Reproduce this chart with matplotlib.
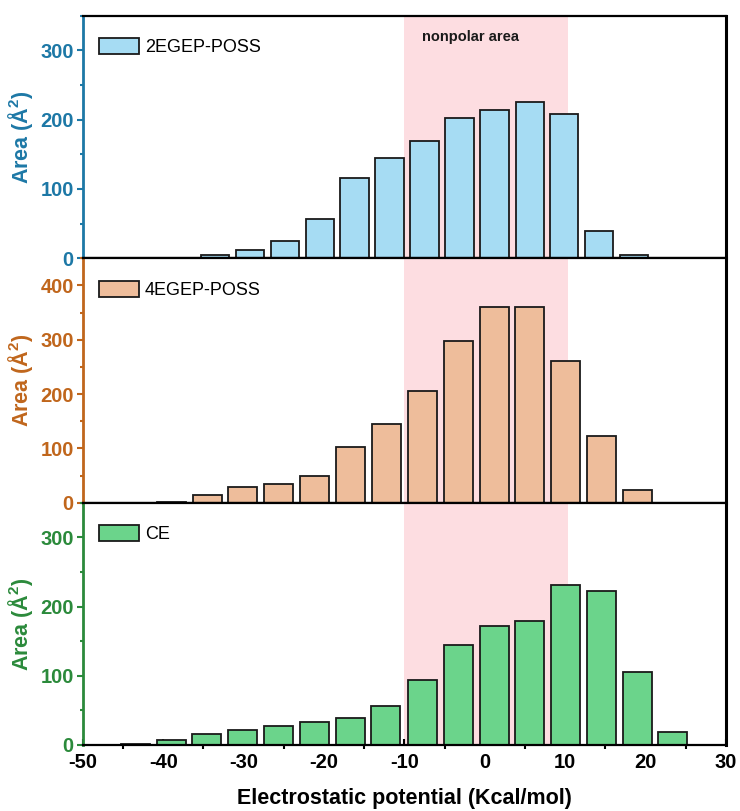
import numpy as np
import matplotlib
matplotlib.use("Agg")
import matplotlib.pyplot as plt
from matplotlib.ticker import MultipleLocator

plt.rcParams["font.family"] = ["Liberation Sans", "DejaVu Sans"]
plt.rcParams["mathtext.fontset"] = "custom"
plt.rcParams["mathtext.rm"] = "Liberation Sans:bold"
plt.rcParams["mathtext.bf"] = "Liberation Sans:bold"
plt.rcParams["axes.unicode_minus"] = False

# ---------------------------------------------------------------
# Data: surface area (A^2) per electrostatic potential bin
# ---------------------------------------------------------------
x_2egep = [-33.6, -29.2, -24.9, -20.55, -16.2, -11.85, -7.5, -3.15,
           1.2, 5.57, 9.9, 14.25, 18.6]
area_2egep = [5, 12.5, 25, 57, 116.5, 145, 169.5, 203, 214, 226, 208, 39, 5]

x_4egep = [-39.0, -34.5, -30.1, -25.65, -21.2, -16.7, -12.25, -7.8,
           -3.3, 1.17, 5.6, 10.07, 14.5, 19.0]
area_4egep = [2, 14, 29.6, 34.6, 48.9, 103, 145.7, 206, 297, 361, 361,
              260, 122, 23]

x_ce = [-43.5, -39.0, -34.6, -30.1, -25.7, -21.2, -16.7, -12.3, -7.8,
        -3.3, 1.17, 5.6, 10.07, 14.5, 19.0, 23.4]
area_ce = [1.5, 7, 16, 21, 28, 33.7, 39, 56.8, 94, 145, 171.5, 178.7,
           231.7, 222, 105, 18.8]

nonpolar = (-10, 10.3)

panels = [
    # label, x, y, bar width, face, axis colour, ylim, yticks
    ("2EGEP-POSS", x_2egep, area_2egep, 3.5, "#a6dcf3", "#1d78a6", 350, [0, 100, 200, 300]),
    ("4EGEP-POSS", x_4egep, area_4egep, 3.6, "#eebd9b", "#c0661c", 450, [0, 100, 200, 300, 400]),
    ("CE", x_ce, area_ce, 3.6, "#6bd48b", "#2b8a3b", 350, [0, 100, 200, 300]),
]

fig = plt.figure(figsize=(7.4, 8.11), dpi=100)
left, width = 0.1119, 0.8692
boxes = [(0.6815, 0.2991), (0.3802, 0.3013), (0.0814, 0.2988)]

axes = []
for (name, xs, ys, w, face, col, ymax, yt), (y0, h) in zip(panels, boxes):
    ax = fig.add_axes([left, y0, width, h])
    axes.append(ax)
    ax.axvspan(*nonpolar, color="#fddde1", lw=0, zorder=0)
    ax.bar(xs, ys, width=w, color=face, edgecolor="#1a1a1a", linewidth=1.3,
           label=name, zorder=2)
    ax.set_xlim(-50, 30)
    ax.set_ylim(0, ymax)
    ax.set_yticks(yt)
    ax.yaxis.set_minor_locator(MultipleLocator(50))
    ax.tick_params(axis="y", which="major", direction="out", length=4,
                   width=1.5, color=col, labelcolor=col, labelsize=14.5,
                   pad=2.5)
    ax.tick_params(axis="y", which="minor", direction="out", length=2,
                   width=1.5, color=col)
    for lab in ax.get_yticklabels():
        lab.set_fontweight("bold")
    for side in ("top", "bottom", "right"):
        ax.spines[side].set_linewidth(1.6)
        ax.spines[side].set_color("black")
    ax.spines["right"].set_linewidth(2.2)
    ax.spines["left"].set_linewidth(2.0)
    ax.spines["left"].set_color(col)
    ax.set_ylabel(r"Area (Å$^{2}$)", color=col, fontsize=15.5,
                  fontweight="bold")
    ax.yaxis.set_label_coords(-0.074, 0.5)
    ax.legend(loc="upper left", bbox_to_anchor=(0.0, 0.975),
              frameon=False, fontsize=13, handlelength=2.2,
              handleheight=1.0, handletextpad=0.35)
    ax.set_zorder(len(axes))

axes[0].text(-7.8, 319, "nonpolar area", fontsize=10.5, fontweight="bold",
             va="center", ha="left", color="#1a1a1a")

for ax in axes[:2]:
    ax.tick_params(axis="x", which="both", bottom=False, labelbottom=False)

bx = axes[2]
bx.xaxis.set_major_locator(MultipleLocator(10))
bx.xaxis.set_minor_locator(MultipleLocator(5))
bx.tick_params(axis="x", which="major", direction="in", length=4, width=1.5,
               labelsize=14.5, pad=6)
bx.tick_params(axis="x", which="minor", direction="out", length=3, width=1.5)
for lab in bx.get_xticklabels():
    lab.set_fontweight("bold")
bx.set_xlabel("Electrostatic potential (Kcal/mol)", fontsize=15.5,
              fontweight="bold", labelpad=11)

fig.savefig("out.png", dpi=100)
